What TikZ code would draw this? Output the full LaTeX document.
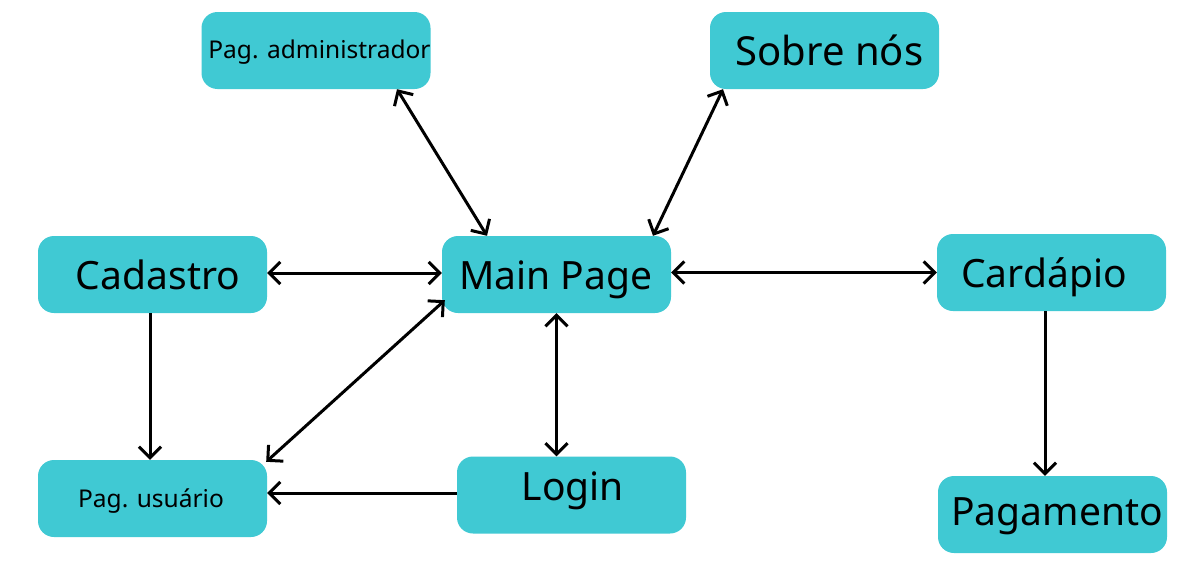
\documentclass[tikz,border=0pt]{standalone}
\usepackage{fontspec}
\setmainfont{Noto Sans}
\usetikzlibrary{arrows.meta}
\definecolor{boxteal}{HTML}{40C9D3}
\begin{document}
\begin{tikzpicture}[x=1pt,y=-1pt,
  box/.style={fill=boxteal,draw=none,rounded corners=16pt,minimum width=229pt,minimum height=77pt,inner sep=0pt},
  bigtxt/.style={anchor=base,inner sep=0pt,font=\fontsize{39}{40}\selectfont},
  smalltxt/.style={anchor=base,inner sep=0pt,font=\fontsize{24.5}{26}\selectfont},
  conn/.style={line width=3pt,draw=black},
  both/.style={conn,{Straight Barb[length=11pt,width=22pt]}-{Straight Barb[length=11pt,width=22pt]}},
  one/.style={conn,-{Straight Barb[length=11pt,width=22pt]}}]
\useasboundingbox (0,0) rectangle (1182,562);
\fill[white] (0,0) rectangle (1182,562);
% boxes
\node[box] (admin) at (316,50.5) {};
\node[box] (sobre) at (824.5,50.5) {};
\node[box] (cadastro) at (152.5,274.5) {};
\node[box] (main) at (556.5,274.5) {};
\node[box] (cardapio) at (1051.5,272.5) {};
\node[box] (usuario) at (152.5,498.5) {};
\node[box] (login) at (571.5,495) {};
\node[box] (pagamento) at (1052.5,514.5) {};
% texts
\node[smalltxt] (adminT) at (319.5,58) {Pag. administrador};
\node[bigtxt,font=\fontsize{40}{41}\selectfont] (sobreT) at (829.5,65) {Sobre nós};
\node[bigtxt] (cadastroT) at (158,289) {Cadastro};
\node[bigtxt] (mainT) at (555.5,289) {Main Page};
\node[bigtxt] (cardapioT) at (1044,287) {Cardápio};
\node[smalltxt] (usuarioT) at (151,507) {Pag. usuário};
\node[bigtxt] (loginT) at (573,500) {Login};
\node[bigtxt] (pagamentoT) at (1057,525) {Pagamento};
% connectors
\draw[both] ([xshift=81pt]admin.south) -- ([xshift=-69.5pt]main.north);
\draw[both] ([xshift=-101.5pt]sobre.south) -- ([xshift=96.5pt]main.north);
\draw[both] ([yshift=1.5pt]cadastro.east) -- ([yshift=1.5pt]main.west);
\draw[both] ([shift={(3pt,13pt)}]main.south west) -- ([shift={(-1pt,-2pt)}]usuario.north east);
\draw[one] ([xshift=-2.5pt]cadastro.south) -- ([xshift=-2.5pt]usuario.north);
\draw[one] ([yshift=2pt]login.west) -- ([yshift=2pt]login.west -| usuario.east);
\draw[both] (main.south) -- (main.south |- login.north);
\draw[both] (cardapio.west -| main.east) -- (cardapio.west);
\draw[one] ([xshift=-6.5pt]cardapio.south) -- ([xshift=-6.5pt]cardapio.south |- pagamento.north);
\end{tikzpicture}
\end{document}
